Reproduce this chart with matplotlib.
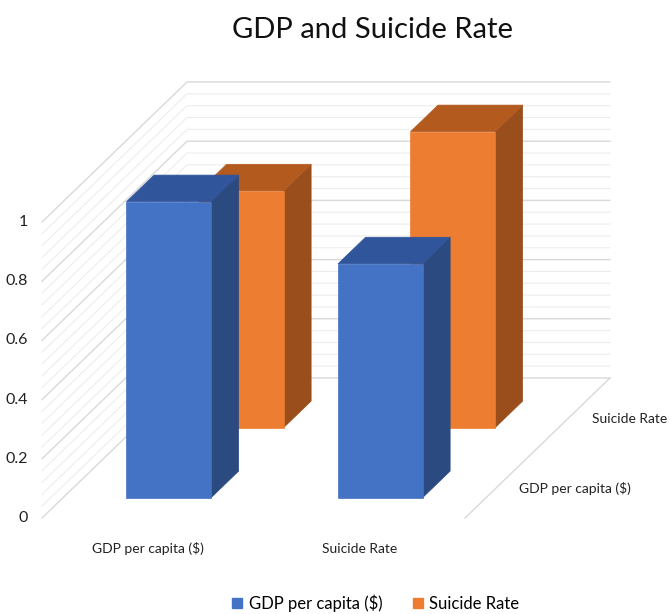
import numpy as np
import matplotlib
matplotlib.use('Agg')
import matplotlib.pyplot as plt
from matplotlib.patches import Polygon, Patch
from matplotlib import font_manager

# data (correlation table shown as 3D columns)
categories = ['GDP per capita ($)', 'Suicide Rate']
series = ['GDP per capita ($)', 'Suicide Rate']
gdp_values = [1.0, 0.79]
suicide_values = [0.80, 1.0]
values = [gdp_values, suicide_values]
ytick_values = [0, 0.2, 0.4, 0.6, 0.8, 1]
ytick_labels = ['0', '0.2', '0.4', '0.6', '0.8', '1']

face_colors = ['#4472C4', '#ED7D31']
top_colors = ['#30559A', '#B35A1F']
side_colors = ['#2B4A80', '#9A4E1B']

# pick a narrow-ish font
avail = set(f.name for f in font_manager.fontManager.ttflist)
fam = [f for f in ['Lato', 'Open Sans', 'DejaVu Sans'] if f in avail]
plt.rcParams['font.family'] = fam

# oblique projection: depth d in [0,1] shifts x and z
KX = 145 / 423
KZ = 140 / 296

def proj(x, d, z):
    return x + KX * d, z + KZ * d

fig = plt.figure(figsize=(6.7, 6.14), dpi=100)
ax = fig.add_axes([0, 0, 1, 1])
ax.set_xlim(-42 / 423, 628 / 423)
ax.set_ylim((518 - 614) / 296, 518 / 296)
ax.set_axis_off()

# walls gridlines
for k, v in enumerate(np.arange(0, 1.0001, 0.04)):
    major = k % 5 == 0
    pts = [proj(0, 0, v), proj(0, 1, v), proj(1, 1, v)]
    ax.plot([p[0] for p in pts], [p[1] for p in pts],
            color='#D9D9D9' if major else '#EDEDED', lw=1.0 if major else 0.8,
            zorder=1)
pts = [proj(1, 1, 0), proj(1, 0, 0)]
ax.plot([p[0] for p in pts], [p[1] for p in pts], color='#D9D9D9', lw=1.0, zorder=1)

# bars, back row first
ncat = len(categories)
nser = len(series)
bw = 0.4 / ncat
bd = 0.19
for j in reversed(range(nser)):
    dc = (j + 0.5) / nser - 0.01
    d0, d1 = dc - bd / 2, dc + bd / 2
    for i in range(ncat):
        v = values[j][i]
        xc = (i + 0.5) / ncat
        x0, x1 = xc - bw / 2, xc + bw / 2
        front = [proj(x0, d0, 0), proj(x1, d0, 0), proj(x1, d0, v), proj(x0, d0, v)]
        top = [proj(x0, d0, v), proj(x1, d0, v), proj(x1, d1, v), proj(x0, d1, v)]
        side = [proj(x1, d0, 0), proj(x1, d1, 0), proj(x1, d1, v), proj(x1, d0, v)]
        zo = 3 + (nser - j) * 3
        ax.add_patch(Polygon(side, closed=True, fc=side_colors[j], ec=side_colors[j], lw=0.5, zorder=zo))
        ax.add_patch(Polygon(top, closed=True, fc=top_colors[j], ec=top_colors[j], lw=0.5, zorder=zo))
        ax.add_patch(Polygon(front, closed=True, fc=face_colors[j], ec=face_colors[j], lw=0.5, zorder=zo + 1))

# value axis labels
for v, lab in zip(ytick_values, ytick_labels):
    ax.annotate(lab, xy=proj(0, 0, v), xytext=(-10, 0), textcoords='offset points',
                ha='right', va='center', fontsize=11.5, color='#222222')

# category labels
for i, lab in enumerate(categories):
    xc = (i + 0.5) / ncat
    ax.annotate(lab, xy=proj(xc, 0, 0), xytext=(0, -22), textcoords='offset points',
                ha='center', va='center', fontsize=10, color='#222222')

# series (depth) labels
for j, lab in enumerate(series):
    dc = (j + 0.5) / nser - 0.01
    ax.annotate(lab, xy=proj(1, dc, 0), xytext=(14, -3), textcoords='offset points',
                ha='left', va='center', fontsize=10, color='#222222')

fig.text(372 / 670, 1 - 30 / 614, 'GDP and Suicide Rate', ha='center', va='center',
         fontsize=21, color='#111111')

handles = [Patch(fc=c, ec=c) for c in face_colors]
fig.legend(handles, series, loc='center', bbox_to_anchor=(376 / 670, 1 - 603 / 614),
           ncol=2, frameon=False, fontsize=12, handlelength=0.6, handleheight=0.6,
           handletextpad=0.4, columnspacing=1.8)

fig.savefig('out.png', dpi=100)
